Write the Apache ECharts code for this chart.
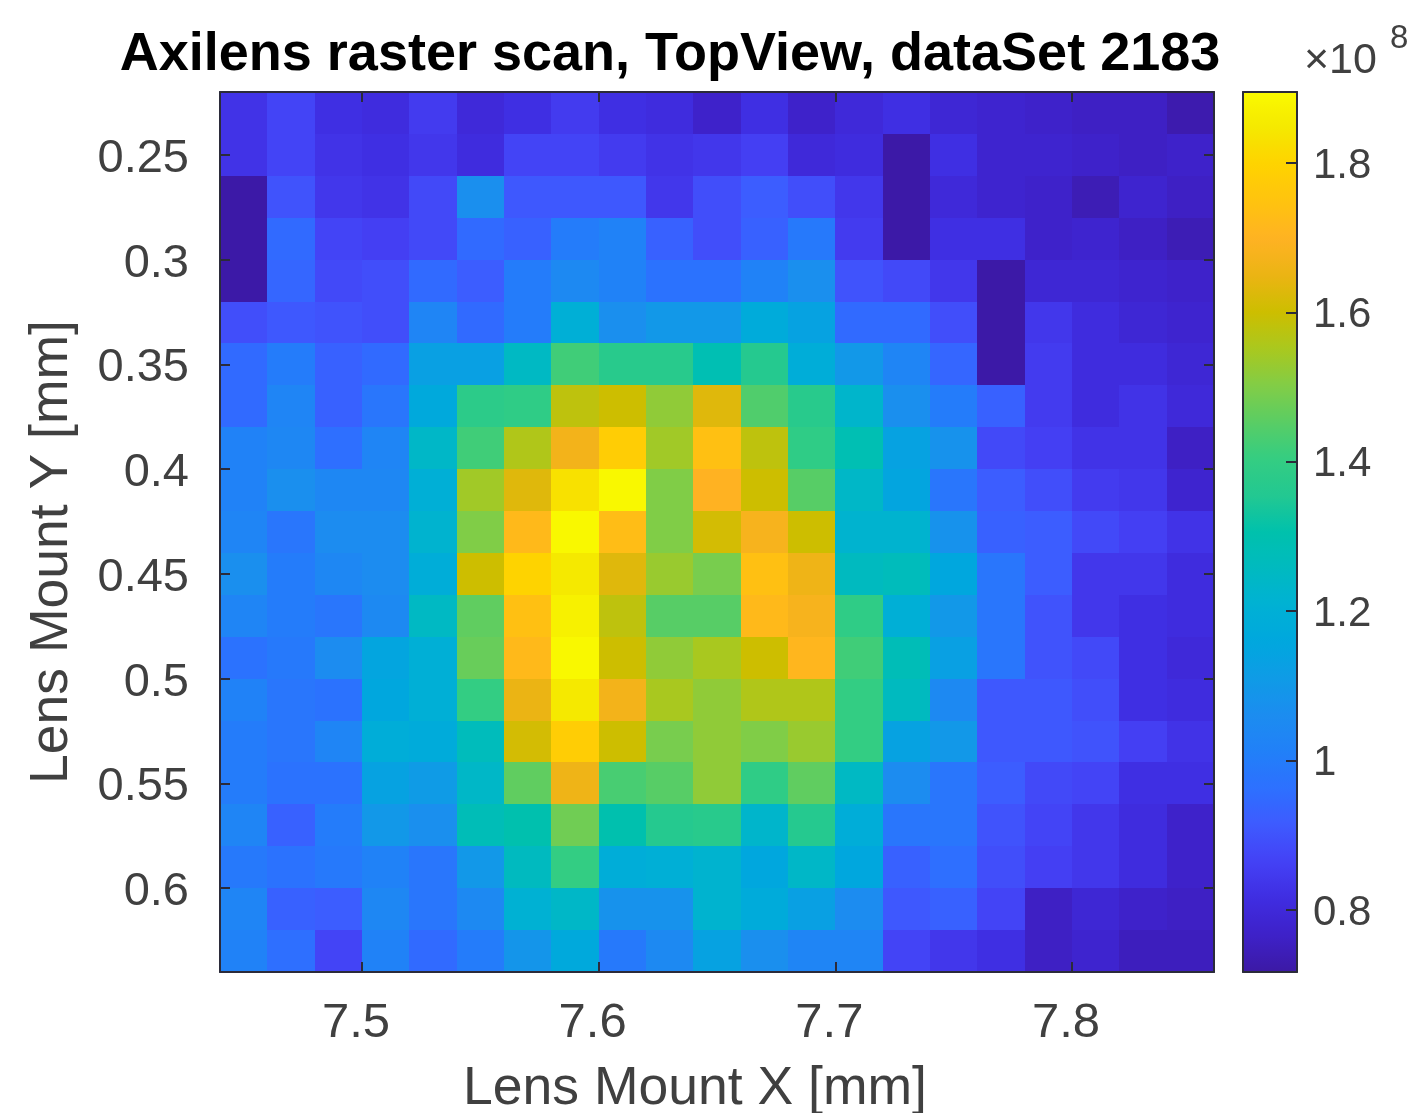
<!DOCTYPE html>
<html>
<head>
<meta charset="utf-8">
<title>Axilens raster scan</title>
<script src="https://cdn.jsdelivr.net/npm/echarts@6/dist/echarts.min.js"></script>
<style>
    html, body { margin: 0; padding: 0; background: #fff; }
    #main { width: 1415px; height: 1113px; }
</style>
</head>
<body>
<div id="main"></div>
<script>
// cell centres of the scan, mm
var xCenters = [7.45, 7.47, 7.49, 7.51, 7.53, 7.55, 7.57, 7.59, 7.61, 7.63, 7.65, 7.67, 7.69, 7.71, 7.73, 7.75, 7.77, 7.79, 7.81, 7.83, 7.85];
var yCenters = [0.23, 0.25, 0.27, 0.29, 0.31, 0.33, 0.35, 0.37, 0.39, 0.41, 0.43, 0.45, 0.47, 0.49, 0.51, 0.53, 0.55, 0.57, 0.59, 0.61, 0.63];

// signal in units of 1e8, one row per y
var row023 = [0.83, 0.87, 0.82, 0.81, 0.85, 0.80, 0.82, 0.85, 0.82, 0.81, 0.77, 0.82, 0.77, 0.80, 0.82, 0.79, 0.78, 0.77, 0.76, 0.76, 0.73];
var row025 = [0.83, 0.87, 0.83, 0.82, 0.84, 0.81, 0.87, 0.87, 0.85, 0.83, 0.84, 0.86, 0.80, 0.81, 0.72, 0.82, 0.78, 0.78, 0.77, 0.76, 0.77];
var row027 = [0.72, 0.90, 0.84, 0.83, 0.88, 1.07, 0.91, 0.91, 0.91, 0.84, 0.89, 0.92, 0.89, 0.84, 0.72, 0.80, 0.78, 0.77, 0.74, 0.78, 0.76];
var row029 = [0.72, 0.95, 0.87, 0.86, 0.88, 0.95, 0.93, 1.00, 1.02, 0.93, 0.89, 0.93, 0.99, 0.85, 0.72, 0.82, 0.82, 0.77, 0.78, 0.76, 0.74];
var row031 = [0.72, 0.94, 0.88, 0.89, 0.95, 0.92, 1.00, 1.05, 1.02, 0.97, 0.97, 1.02, 1.07, 0.90, 0.88, 0.84, 0.72, 0.79, 0.79, 0.78, 0.77];
var row033 = [0.89, 0.91, 0.90, 0.89, 1.03, 0.95, 1.00, 1.20, 1.07, 1.10, 1.10, 1.18, 1.14, 0.95, 0.95, 0.89, 0.72, 0.84, 0.81, 0.79, 0.78];
var row035 = [0.95, 1.00, 0.93, 0.95, 1.13, 1.13, 1.25, 1.42, 1.37, 1.37, 1.29, 1.36, 1.19, 1.10, 1.03, 0.94, 0.72, 0.85, 0.81, 0.81, 0.79];
var row037 = [0.95, 1.03, 0.93, 0.98, 1.17, 1.38, 1.39, 1.58, 1.60, 1.52, 1.63, 1.44, 1.37, 1.23, 1.07, 1.00, 0.93, 0.85, 0.81, 0.83, 0.80];
var row039 = [1.02, 1.04, 0.96, 1.03, 1.24, 1.42, 1.56, 1.67, 1.78, 1.54, 1.74, 1.58, 1.39, 1.29, 1.14, 1.08, 0.88, 0.86, 0.83, 0.83, 0.76];
var row041 = [1.02, 1.07, 1.04, 1.04, 1.20, 1.54, 1.63, 1.83, 1.89, 1.50, 1.70, 1.60, 1.45, 1.24, 1.15, 0.98, 0.92, 0.89, 0.85, 0.84, 0.78];
var row043 = [1.03, 0.98, 1.06, 1.06, 1.22, 1.50, 1.72, 1.89, 1.73, 1.50, 1.61, 1.68, 1.60, 1.22, 1.22, 1.08, 0.93, 0.92, 0.88, 0.86, 0.83];
var row045 = [1.07, 1.00, 1.04, 1.06, 1.19, 1.60, 1.80, 1.85, 1.63, 1.53, 1.49, 1.74, 1.66, 1.26, 1.27, 1.16, 0.98, 0.92, 0.84, 0.84, 0.81];
var row047 = [1.03, 1.00, 0.98, 1.05, 1.25, 1.46, 1.74, 1.87, 1.58, 1.45, 1.45, 1.72, 1.68, 1.39, 1.20, 1.10, 0.98, 0.90, 0.84, 0.82, 0.81];
var row049 = [0.97, 0.99, 1.06, 1.15, 1.20, 1.47, 1.72, 1.89, 1.60, 1.52, 1.55, 1.60, 1.71, 1.42, 1.28, 1.13, 0.98, 0.90, 0.88, 0.82, 0.80];
var row051 = [1.02, 0.98, 0.97, 1.16, 1.20, 1.40, 1.65, 1.85, 1.67, 1.55, 1.52, 1.56, 1.56, 1.40, 1.26, 1.05, 0.91, 0.91, 0.89, 0.82, 0.81];
var row053 = [1.00, 0.98, 1.03, 1.19, 1.18, 1.27, 1.61, 1.78, 1.60, 1.49, 1.52, 1.50, 1.53, 1.40, 1.14, 1.10, 0.91, 0.91, 0.90, 0.86, 0.83];
var row055 = [1.00, 0.97, 0.97, 1.14, 1.11, 1.24, 1.46, 1.66, 1.43, 1.45, 1.52, 1.39, 1.46, 1.25, 1.06, 0.98, 0.92, 0.88, 0.87, 0.82, 0.82];
var row057 = [1.03, 0.93, 1.00, 1.10, 1.07, 1.28, 1.30, 1.48, 1.30, 1.36, 1.37, 1.23, 1.36, 1.19, 0.98, 0.98, 0.90, 0.87, 0.84, 0.81, 0.77];
var row059 = [0.99, 0.97, 0.99, 1.02, 0.98, 1.10, 1.26, 1.40, 1.19, 1.20, 1.22, 1.16, 1.24, 1.16, 0.93, 0.96, 0.89, 0.86, 0.84, 0.81, 0.77];
var row061 = [1.03, 0.93, 0.92, 1.04, 0.98, 1.05, 1.21, 1.24, 1.08, 1.08, 1.22, 1.18, 1.13, 1.06, 0.91, 0.93, 0.87, 0.76, 0.79, 0.77, 0.76];
var row063 = [1.02, 0.96, 0.87, 1.02, 0.95, 1.00, 1.09, 1.17, 0.99, 1.05, 1.14, 1.07, 1.03, 1.03, 0.87, 0.84, 0.82, 0.76, 0.78, 0.75, 0.75];
var rows = [row023, row025, row027, row029, row031, row033, row035, row037, row039, row041, row043, row045, row047, row049, row051, row053, row055, row057, row059, row061, row063];

var xTicks = [7.5, 7.6, 7.7, 7.8];
var yTicks = [0.25, 0.3, 0.35, 0.4, 0.45, 0.5, 0.55, 0.6];
var barTicks = [0.8, 1, 1.2, 1.4, 1.6, 1.8];

var colorMin = 0.717;
var colorMax = 1.895;
// the old parula map as it looks on the colorbar
var parula = [
    '#3c19a5', '#3e21c8', '#3f2de1', '#4441f5', '#3e5aff', '#2d70ff', '#2180f8', '#1c8cf0', '#0f9be6',
    '#00a7de', '#00b1d4', '#00bac0', '#00c1ac', '#23c891', '#34cd82', '#5acd64', '#82cd46', '#aac81e',
    '#cdbe00', '#ebb414', '#ffb223', '#ffc30f', '#ffd200', '#f5e800', '#fafa00'
];

var inkColor = '#404040';
var frameColor = '#2b2b3a';
var fontName = '"Liberation Sans", Arial, sans-serif';

var chartDom = document.getElementById('main');
var myChart = echarts.init(chartDom, null, { renderer: 'canvas' });

var cells = [];
rows.forEach(function (row, r) {
    row.forEach(function (v, c) {
        cells.push([xCenters[c], yCenters[r], v]);
    });
});

function renderCell(params, api) {
    var x = api.value(0);
    var y = api.value(1);
    // half a step each way, snapped so that neighbours leave no seam
    var p0 = api.coord([x - 0.01, y - 0.01]);
    var p1 = api.coord([x + 0.01, y + 0.01]);
    var left = Math.round(p0[0]);
    var top = Math.round(p0[1]);
    return {
        type: 'rect',
        shape: {
            x: left,
            y: top,
            width: Math.round(p1[0]) - left,
            height: Math.round(p1[1]) - top
        },
        style: { fill: api.visual('color') }
    };
}

// frame side: line plus inward ticks, labels only if asked
// labelPadding goes on a rich box, plain label padding does not move the text here
function frameAxis(base, ticks, labelled, fontSize, margin, tickLength, labelPadding) {
    return Object.assign({
        type: 'value',
        z: 6,
        splitLine: { show: false },
        axisLine: { show: true, onZero: false, lineStyle: { color: frameColor, width: 2 } },
        axisTick: {
            show: true,
            inside: true,
            length: tickLength,
            customValues: ticks,
            lineStyle: { color: frameColor, width: 2 }
        },
        axisLabel: {
            show: labelled,
            customValues: ticks,
            margin: margin,
            formatter: function (v) { return '{a|' + v + '}'; },
            rich: {
                a: {
                    color: inkColor,
                    fontFamily: fontName,
                    fontSize: fontSize,
                    padding: labelPadding || [0, 0, 0, 0]
                }
            }
        }
    }, base);
}

var option = {
    backgroundColor: '#fff',
    animation: false,
    title: [
        {
            text: 'Axilens raster scan, TopView, dataSet 2183',
            left: 665,
            top: 23,
            textAlign: 'center',
            textStyle: { color: '#000', fontFamily: fontName, fontWeight: 'bold', fontSize: 54 }
        },
        {
            text: '×10',
            left: 1299,
            top: 35,
            textStyle: { color: inkColor, fontFamily: fontName, fontWeight: 'normal', fontSize: 43 }
        },
        {
            text: '8',
            left: 1385,
            top: 17,
            textStyle: { color: inkColor, fontFamily: fontName, fontWeight: 'normal', fontSize: 33 }
        }
    ],
    grid: [
        { left: 220, top: 92, width: 994, height: 880, outerBoundsMode: 'none' },
        { left: 1243, top: 92, width: 54, height: 880, outerBoundsMode: 'none' }
    ],
    xAxis: [
        frameAxis({
            gridIndex: 0, position: 'bottom', min: 7.44, max: 7.86,
            name: 'Lens Mount X [mm]', nameLocation: 'middle', nameGap: 90,
            nameTextStyle: { color: inkColor, fontFamily: fontName, fontSize: 53.5, padding: [0, 44, 0, 0] }
        }, xTicks, true, 49, 27, 10, [0, 12, 0, 0]),
        frameAxis({ gridIndex: 0, position: 'top', min: 7.44, max: 7.86 }, xTicks, false, 47, 8, 10),
        frameAxis({ gridIndex: 1, position: 'bottom', min: 0, max: 1 }, [], false, 42, 8, 0),
        frameAxis({ gridIndex: 1, position: 'top', min: 0, max: 1 }, [], false, 42, 8, 0)
    ],
    yAxis: [
        frameAxis({
            gridIndex: 0, position: 'left', inverse: true, min: 0.22, max: 0.64,
            name: 'Lens Mount Y [mm]', nameLocation: 'middle', nameGap: 141, nameRotate: 90,
            nameTextStyle: { color: inkColor, fontFamily: fontName, fontSize: 53.5, padding: [0, 40, 0, 0] }
        }, yTicks, true, 47, 31, 10, [8, 0, 0, 0]),
        frameAxis({ gridIndex: 0, position: 'right', inverse: true, min: 0.22, max: 0.64 }, yTicks, false, 47, 8, 10),
        frameAxis({ gridIndex: 1, position: 'right', min: colorMin, max: colorMax }, barTicks, true, 42, 16, 11, [6, 0, 0, 0]),
        frameAxis({ gridIndex: 1, position: 'left', min: colorMin, max: colorMax }, [], false, 42, 8, 0)
    ],
    visualMap: {
        type: 'continuous',
        seriesIndex: 0,
        dimension: 2,
        min: colorMin,
        max: colorMax,
        calculable: false,
        left: 1243,
        top: 92,
        padding: 0,
        itemWidth: 54,
        itemHeight: 880,
        showLabel: false,
        inRange: { color: parula }
    },
    series: [
        {
            name: 'Signal',
            type: 'custom',
            xAxisIndex: 0,
            yAxisIndex: 0,
            renderItem: renderCell,
            encode: { x: 0, y: 1, tooltip: 2 },
            data: cells,
            silent: true
        }
    ]
};

option && myChart.setOption(option);
</script>
</body>
</html>
